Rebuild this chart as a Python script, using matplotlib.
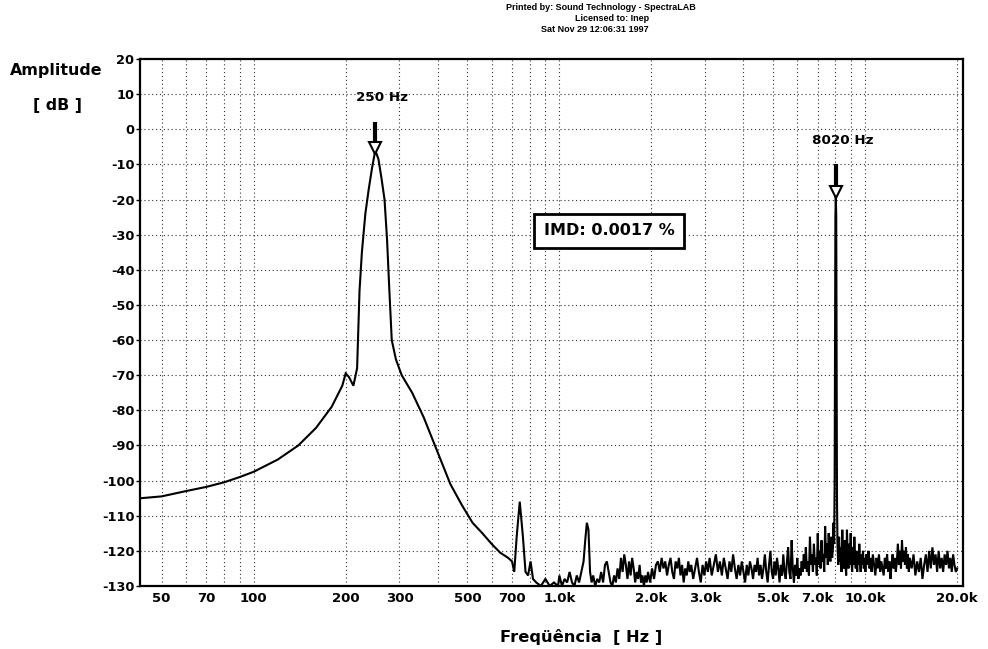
import matplotlib
matplotlib.use("Agg")
import matplotlib.pyplot as plt
from matplotlib.ticker import FixedLocator, NullFormatter

plt.rcParams['font.family'] = ['DejaVu Sans']
plt.rcParams['font.weight'] = 'bold'

# ---------------- data ----------------
freq_low = [43, 50, 60, 70, 80, 90, 100, 120, 140, 160, 180, 195, 200, 205, 212,
            218, 222, 226, 232, 238, 244, 250, 256, 262, 268, 273, 278, 283, 292,
            305, 330, 360, 400, 440, 480, 520, 560, 600, 640, 680, 700, 712, 725,
            742, 760, 775, 790, 805, 820, 840, 870, 900, 930, 960, 990]
amp_low = [-105, -104.5, -103, -101.8, -100.5, -99, -97.5, -94, -90, -85, -79, -73,
           -69.5, -70.5, -73, -68, -46, -35, -24, -17, -11, -6, -8.5, -14, -20, -31,
           -46, -60, -65.5, -70, -75, -82, -92, -101, -107, -112, -115, -118, -120.5,
           -122, -123, -126, -116, -106, -116, -126, -127, -123, -128, -129, -130,
           -128, -130, -129, -130]

freq_mid = [1000, 1020, 1040, 1060, 1080, 1100, 1120, 1140, 1160, 1180, 1200, 1215,
            1230, 1245, 1260, 1275, 1290, 1310, 1330, 1350, 1370, 1390, 1410, 1430,
            1450, 1470, 1490, 1510, 1530, 1550, 1570, 1590, 1610, 1630, 1650, 1670,
            1690, 1710, 1730, 1750, 1770, 1790, 1810, 1830, 1850, 1870, 1890, 1910,
            1930, 1950, 1980, 2010, 2040, 2070, 2100, 2130, 2160, 2190, 2220, 2250,
            2280, 2310, 2340, 2370, 2400, 2430, 2460, 2490, 2520, 2550, 2580, 2610,
            2640, 2670, 2700, 2740, 2780, 2820, 2860, 2900, 2940, 2980, 3020, 3060,
            3100, 3150, 3200, 3250, 3300, 3350, 3400, 3450, 3500, 3550, 3600, 3650,
            3700, 3750, 3800, 3850, 3900, 3950, 4000, 4050, 4100, 4150, 4200, 4250,
            4300, 4350, 4400, 4450, 4500, 4550, 4600, 4650, 4700, 4750, 4800, 4850,
            4900, 4950, 5000, 5050, 5100, 5150, 5200, 5250, 5300, 5350, 5400, 5450,
            5500, 5550, 5600, 5650, 5700, 5750, 5800, 5850, 5900, 5950, 6000, 6050,
            6100, 6150, 6200, 6250, 6300, 6350, 6400, 6450, 6500, 6550, 6600, 6650,
            6700, 6750, 6800, 6850, 6900, 6950, 7000, 7050, 7100, 7150, 7200, 7250,
            7300, 7350, 7400, 7450, 7500, 7550, 7600, 7650, 7700, 7750, 7800, 7850,
            7880, 7920]
amp_mid = [-127, -130, -128, -129, -126, -129, -130, -127, -129, -126, -123, -117,
           -112, -114, -126, -129, -127, -130, -128, -129, -126, -129, -124, -123,
           -126, -129, -130, -127, -129, -125, -128, -122, -126, -121, -124, -128,
           -123, -127, -122, -125, -129, -126, -128, -124, -129, -127, -130, -127,
           -129, -126, -129, -125, -128, -124, -123, -126, -122, -125, -123, -127,
           -124, -122, -126, -128, -123, -125, -122, -127, -124, -129, -125, -127,
           -123, -126, -124, -128, -125, -122, -126, -129, -124, -127, -123, -126,
           -122, -127, -124, -121, -126, -123, -127, -122, -125, -128, -123, -126,
           -121, -125, -128, -124, -127, -123, -126, -129, -124, -127, -123, -125,
           -128, -124, -126, -122, -127, -124, -128, -125, -121, -126, -129, -124,
           -120, -126, -128, -123, -127, -122, -125, -129, -124, -127, -121, -126,
           -128, -123, -119, -126, -128, -117, -125, -129, -124, -127, -122, -128,
           -125, -127, -123, -126, -121, -125, -119, -126, -123, -127, -116, -124,
           -121, -126, -118, -124, -122, -127, -115, -124, -120, -125, -117, -123,
           -121, -126, -113, -122, -118, -124, -115, -121, -123, -116, -122, -119,
           -112, -118]

freq_high = [7950, 7975, 7995, 8020, 8045, 8065, 8090, 8120, 8170, 8220, 8270, 8320, 8370,
             8420, 8470, 8520, 8570, 8620, 8670, 8720, 8770, 8820, 8870, 8920, 8970,
             9020, 9070, 9120, 9170, 9220, 9270, 9320, 9370, 9420, 9470, 9520, 9570,
             9620, 9670, 9720, 9780, 9840, 9900, 9960, 10020, 10100, 10180, 10260,
             10340, 10420, 10500, 10600, 10700, 10800, 10900, 11000, 11100, 11200,
             11300, 11400, 11500, 11600, 11700, 11800, 11900, 12000, 12100, 12200,
             12300, 12400, 12500, 12600, 12700, 12800, 12900, 13000, 13100, 13200,
             13300, 13400, 13500, 13600, 13700, 13800, 13900, 14000, 14200, 14400,
             14600, 14800, 15000, 15200, 15400, 15600, 15800, 16000, 16200, 16400,
             16600, 16800, 17000, 17200, 17400, 17600, 17800, 18000, 18200, 18400,
             18600, 18800, 19000, 19200, 19400, 19600, 19800, 20000]
amp_high = [-100, -60, -25, -19, -25, -60, -105, -118, -124, -116, -123, -119, -126,
            -114, -122, -125, -117, -123, -127, -114, -121, -125, -118, -124, -115,
            -123, -126, -119, -124, -116, -122, -125, -120, -126, -121, -124, -118,
            -123, -126, -121, -124, -120, -125, -122, -126, -121, -124, -120,
            -125, -122, -126, -121, -124, -127, -122, -125, -121, -126,
            -123, -125, -127, -122, -125, -121, -126, -123, -128, -124,
            -121, -125, -122, -126, -123, -118, -124, -120, -125, -117,
            -123, -120, -124, -119, -125, -121, -126, -122, -125, -121,
            -127, -123, -126, -122, -128, -124, -121, -126, -120, -125,
            -119, -124, -121, -126, -120, -125, -122, -126, -121, -124,
            -120, -125, -122, -126, -121, -124, -126, -125]

y_ticks = [20, 10, 0, -10, -20, -30, -40, -50, -60, -70, -80, -90, -100, -110, -120, -130]
x_ticks = [50, 70, 100, 200, 300, 500, 700, 1000, 2000, 3000, 5000, 7000, 10000, 20000]
x_tick_labels = ['50', '70', '100', '200', '300', '500', '700', '1.0k', '2.0k',
                 '3.0k', '5.0k', '7.0k', '10.0k', '20.0k']
grid_freqs = [50, 60, 70, 80, 90, 100, 200, 300, 400, 500, 600, 700, 800, 900,
              1000, 2000, 3000, 4000, 5000, 6000, 7000, 8000, 9000, 10000, 20000]

marker_freqs = [250, 8020]
marker_labels = ['250 Hz', '8020 Hz']
marker_tops = [2, -10]
marker_tips = [-6.5, -19]
marker_text_y = [9, -3.3]

title_lines = ["Printed by: Sound Technology - SpectraLAB",
               "Licensed to: Inep",
               "Sat Nov 29 12:06:31 1997"]
imd_text = "IMD: 0.0017 %"

# ---------------- figure ----------------
fig = plt.figure(figsize=(9.88, 6.49), dpi=100)
ax = fig.add_axes([0.1417, 0.0971, 0.8330, 0.8120])

freq = freq_low + freq_mid + freq_high
amp = amp_low + amp_mid + amp_high
ax.plot(freq, amp, color='black', lw=1.5, solid_joinstyle='miter', zorder=3)

ax.set_xscale('log')
ax.set_xlim(42.5, 20900)
ax.set_ylim(-130, 20)

# grid
for g in grid_freqs:
    ax.axvline(g, color='#333333', lw=0.8, ls=(0, (1, 2.5)), zorder=1)
for yv in y_ticks:
    ax.axhline(yv, color='#333333', lw=0.8, ls=(0, (1, 2.5)), zorder=1)

ax.xaxis.set_major_locator(FixedLocator(x_ticks))
ax.set_xticklabels(x_tick_labels)
ax.xaxis.set_minor_locator(FixedLocator([]))
ax.xaxis.set_minor_formatter(NullFormatter())
ax.set_yticks(y_ticks)
ax.set_yticklabels([str(v) for v in y_ticks])
ax.tick_params(axis='y', labelsize=9.3, length=3, width=1, pad=1, direction='out')
ax.tick_params(axis='x', labelsize=9.5, length=0, pad=4)
for lab in ax.get_xticklabels() + ax.get_yticklabels():
    lab.set_fontweight('bold')

for s in ax.spines.values():
    s.set_linewidth(1.6)
    s.set_color('black')

# markers (arrows)
for f, lab, top, tip, ty in zip(marker_freqs, marker_labels, marker_tops, marker_tips, marker_text_y):
    ax.plot([f, f], [top, tip + 3], color='black', lw=3, solid_capstyle='butt', zorder=4)
    ax.plot([f], [tip + 1.2], marker='v', ms=9, mfc='white', mec='black', mew=1.5, zorder=5)
    ax.text(f * 1.05, ty, lab, ha='center', va='center', fontsize=9.7, fontweight='bold', zorder=6)

# IMD box
ax.text(0.570, 0.674, imd_text, transform=ax.transAxes, ha='center', va='center',
        fontsize=11.5, fontweight='bold', zorder=6,
        bbox=dict(boxstyle='square,pad=0.6', fc='white', ec='black', lw=2))

# axis labels
fig.text(0.057, 0.892, 'Amplitude', ha='center', va='center', fontsize=11.4, fontweight='bold')
fig.text(0.058, 0.837, '[ dB ]', ha='center', va='center', fontsize=11.4, fontweight='bold')
fig.text(0.588, 0.018, 'Freqüência  [ Hz ]', ha='center', va='center', fontsize=11.7, fontweight='bold')

# header
header_x = [0.608, 0.619, 0.602]
for i, line in enumerate(title_lines):
    fig.text(header_x[i], 0.9877 - i * 0.0162, line, ha='center', va='center',
             fontsize=6.5, fontweight='bold', family='Liberation Sans')

fig.savefig('out.png', dpi=100)
